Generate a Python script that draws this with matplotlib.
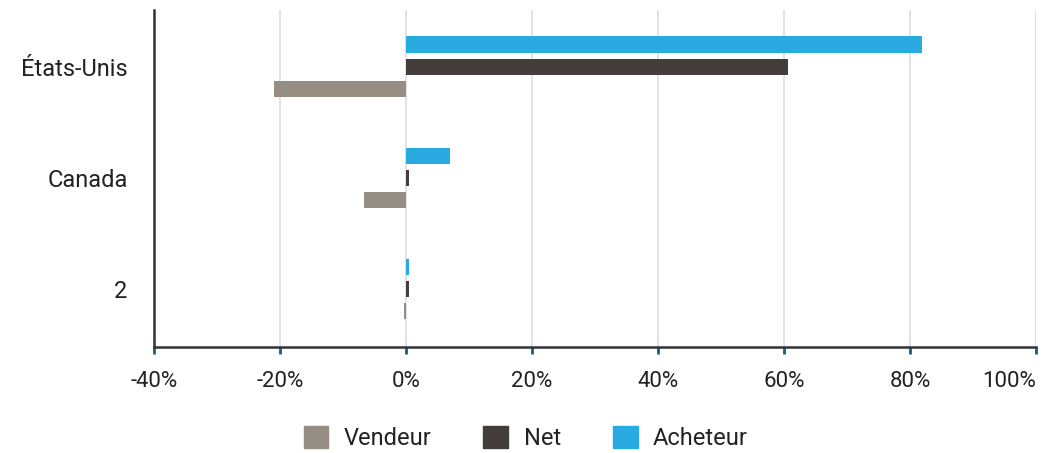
import matplotlib
matplotlib.use("Agg")
import matplotlib.pyplot as plt
import numpy as np
from matplotlib.patches import Patch

categories = ["États-Unis", "Canada", "2"]
series = ["Vendeur", "Net", "Acheteur"]
vendeur = [-21.0, -6.7, -0.4]
net = [60.6, 0.5, 0.5]
acheteur = [81.9, 7.0, 0.5]
colors = {"Vendeur": "#968e82", "Net": "#433e3b", "Acheteur": "#29abe2"}
xticks = [-40, -20, 0, 20, 40, 60, 80, 100]

plt.rcParams['font.family'] = ['Roboto', 'DejaVu Sans']

fig = plt.figure(figsize=(10.45, 4.53), dpi=100)
ax = fig.add_axes([0.1474, 0.234, 0.8440, 0.744])

y = np.arange(len(categories))
h = 0.145
off = 0.2
ax.barh(y - off, acheteur, height=h, color=colors["Acheteur"], zorder=3)
ax.barh(y, net, height=h, color=colors["Net"], zorder=3)
ax.barh(y + off, vendeur, height=h, color=colors["Vendeur"], zorder=3)

ax.set_xlim(-40, 100)
ax.set_ylim(2.52, -0.51)
ax.set_xticks(xticks)
ax.set_xticklabels([f"{t}%" for t in xticks])
ax.set_yticks(y)
ax.set_yticklabels(categories)

ax.grid(axis='x', color='#e3e3e3', linewidth=1.5, zorder=0)
ax.grid(axis='y', visible=False)
for s in ['top', 'right']:
    ax.spines[s].set_visible(False)
for s in ['left', 'bottom']:
    ax.spines[s].set_color('#333333')
    ax.spines[s].set_linewidth(1.8)

ax.tick_params(axis='x', direction='out', length=5, width=2, color='#1d5a80',
               labelsize=16, labelcolor='#222222', pad=12)
ax.tick_params(axis='y', length=0, labelsize=17, labelcolor='#222222', pad=19)
xl = ax.get_xticklabels()
xl[-1].set_horizontalalignment('right')

handles = [Patch(color=colors[s], label=s) for s in series]
fig.legend(handles=handles, loc='center', bbox_to_anchor=(0.503, 0.033), ncol=3,
           frameon=False, handlelength=1.05, handleheight=1.05,
           columnspacing=2.2, handletextpad=0.65,
           prop={'size': 17, 'weight': 'normal'}, labelcolor='#222222')

fig.savefig("out.png", dpi=100)
